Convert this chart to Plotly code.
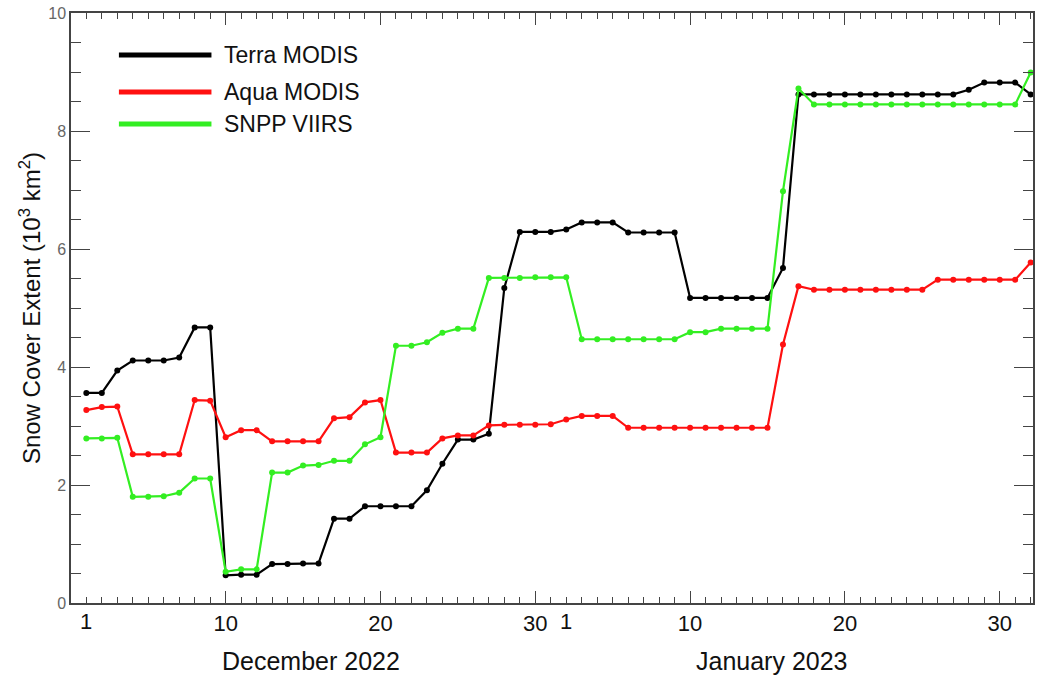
import plotly.graph_objects as go

days = list(range(1, 63))

terra = [3.56, 3.56, 3.94, 4.11, 4.11, 4.11, 4.16, 4.67, 4.67, 0.47,
         0.48, 0.48, 0.66, 0.66, 0.67, 0.67, 1.43, 1.43, 1.64, 1.64,
         1.64, 1.64, 1.91, 2.36, 2.77, 2.77, 2.87, 5.34, 6.29, 6.29,
         6.29, 6.33, 6.45, 6.45, 6.45, 6.28, 6.28, 6.28, 6.28, 5.17,
         5.17, 5.17, 5.17, 5.17, 5.17, 5.68, 8.62, 8.62, 8.62, 8.62,
         8.62, 8.62, 8.62, 8.62, 8.62, 8.62, 8.62, 8.70, 8.82, 8.82,
         8.82, 8.62]

aqua = [3.27, 3.32, 3.33, 2.52, 2.52, 2.52, 2.52, 3.44, 3.43, 2.81,
        2.93, 2.93, 2.74, 2.74, 2.74, 2.74, 3.13, 3.15, 3.40, 3.44,
        2.55, 2.55, 2.55, 2.79, 2.84, 2.84, 3.01, 3.02, 3.02, 3.02,
        3.03, 3.11, 3.17, 3.17, 3.17, 2.97, 2.97, 2.97, 2.97, 2.97,
        2.97, 2.97, 2.97, 2.97, 2.97, 4.38, 5.37, 5.31, 5.31, 5.31,
        5.31, 5.31, 5.31, 5.31, 5.31, 5.48, 5.48, 5.48, 5.48, 5.48,
        5.48, 5.77]

snpp = [2.79, 2.79, 2.80, 1.80, 1.80, 1.81, 1.87, 2.11, 2.11, 0.53,
        0.57, 0.57, 2.21, 2.21, 2.33, 2.34, 2.41, 2.41, 2.69, 2.81,
        4.36, 4.36, 4.42, 4.58, 4.65, 4.65, 5.51, 5.51, 5.51, 5.52,
        5.52, 5.52, 4.47, 4.47, 4.47, 4.47, 4.47, 4.47, 4.47, 4.59,
        4.59, 4.65, 4.65, 4.65, 4.65, 6.98, 8.72, 8.45, 8.45, 8.45,
        8.45, 8.45, 8.45, 8.45, 8.45, 8.45, 8.45, 8.45, 8.45, 8.45,
        8.45, 8.99]

series_names = ["Terra MODIS", "Aqua MODIS", "SNPP VIIRS"]
series_colors = ["#000000", "#ff1010", "#33ee22"]

x_tickvals = [10, 20, 30, 40, 50, 60]
x_ticktext = ["10", "20", "30", "10", "20", "30"]
first_day_positions = [1, 32]
month_labels = ["December 2022", "January 2023"]
month_centers = [15.5, 45.3]

FONT = "Liberation Sans, Arial, sans-serif"

fig = go.Figure()
for name, vals, col in zip(series_names, [terra, aqua, snpp], series_colors):
    fig.add_trace(go.Scatter(
        x=days, y=vals, mode="lines+markers", name=name,
        line=dict(color=col, width=2.2),
        marker=dict(color=col, size=6),
        showlegend=False, cliponaxis=False,
    ))

# legend drawn manually (long thick sample lines)
leg_y = [0.929, 0.866, 0.812]
shapes = []
annotations = []
for name, col, yy in zip(series_names, series_colors, leg_y):
    shapes.append(dict(type="line", xref="paper", yref="paper",
                       x0=0.0498, x1=0.146, y0=yy, y1=yy,
                       line=dict(color=col, width=5)))
    annotations.append(dict(xref="paper", yref="paper", x=0.157, y=yy,
                            text=name, showarrow=False, xanchor="left",
                            yanchor="middle",
                            font=dict(family=FONT, size=23, color="#111")))

for p in first_day_positions:
    annotations.append(dict(xref="x", yref="paper", x=p, y=-0.032,
                            text="1", showarrow=False, xanchor="center",
                            yanchor="middle",
                            font=dict(family=FONT, size=22, color="#111")))

for lab, c in zip(month_labels, month_centers):
    annotations.append(dict(xref="x", yref="paper", x=c, y=-0.072,
                            text=lab, showarrow=False, xanchor="center",
                            yanchor="top",
                            font=dict(family=FONT, size=25, color="#111")))

annotations.append(dict(xref="paper", yref="paper", x=-0.0425, y=0.5,
                        text="Snow Cover Extent (10<sup>3</sup> km<sup>2</sup>)",
                        textangle=-90, showarrow=False,
                        xanchor="center", yanchor="middle",
                        font=dict(family=FONT, size=24, color="#111")))

fig.update_layout(
    width=1038, height=675,
    margin=dict(l=71, r=3, t=13, b=72),
    paper_bgcolor="white", plot_bgcolor="white",
    shapes=shapes, annotations=annotations,
    font=dict(family=FONT),
)

fig.update_xaxes(
    range=[0.01, 62.15], showgrid=False, zeroline=False,
    tickmode="array", tickvals=x_tickvals, ticktext=x_ticktext,
    ticks="inside", ticklen=12, tickwidth=1.3, tickcolor="#444",
    showline=True, linecolor="#444", linewidth=1.5, mirror="allticks",
    tickfont=dict(family=FONT, size=22, color="#111"),
    minor=dict(tickmode="linear", tick0=0, dtick=1, ticks="inside",
               ticklen=6, tickwidth=1, tickcolor="#444", showgrid=False),
)
fig.update_yaxes(
    range=[0, 10], showgrid=False, zeroline=False,
    tickmode="linear", tick0=0, dtick=2,
    ticks="inside", ticklen=19, tickwidth=1.3, tickcolor="#444",
    showline=True, linecolor="#444", linewidth=1.5, mirror="allticks",
    tickfont=dict(family=FONT, size=16, color="#666"),
    minor=dict(tickmode="linear", tick0=0, dtick=0.5, ticks="inside",
               ticklen=10, tickwidth=1, tickcolor="#444", showgrid=False),
)

fig.write_html(
    "out.html",
    config={"displayModeBar": False},
    post_script="document.body.style.margin='0';document.body.style.overflow='hidden';",
)
